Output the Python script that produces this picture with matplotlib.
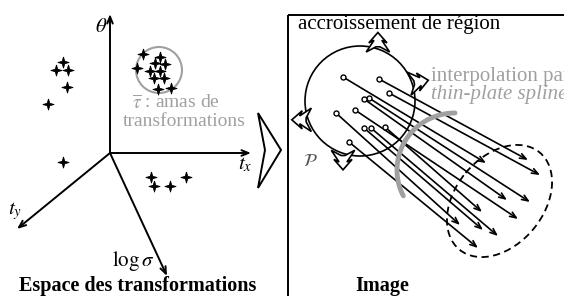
import numpy as np
import matplotlib.pyplot as plt
import matplotlib.patches as patches

plt.rcParams['font.family'] = ['Liberation Serif', 'DejaVu Serif']
plt.rcParams['mathtext.fontset'] = 'stix'

# --- espace des transformations (coordonnees en pixels du croquis) ---
origin = (110, 153)
axis_end_x = [110, 251, 17, 167]
axis_end_y = [14, 153, 229, 276]
axis_names = [r'$\theta$', r'$t_x$', r'$t_y$', r'$\log\sigma$']
axis_label_x = [101, 245, 15, 133]
axis_label_y = [28, 165, 211, 261]

stars_x = [63, 56, 68, 67, 48, 63, 151, 154, 170, 186]
stars_y = [62, 70, 70, 87, 104, 162, 177, 186, 186, 177]
amas_x = [143, 160, 137, 155, 165, 150, 160, 154, 164, 158, 171]
amas_y = [54, 57, 68, 63, 64, 71, 71, 78, 78, 89, 88]
amas_circle = (159, 70, 23)

# --- image ---
region = (360, 101, 55)  # centre x, centre y, rayon
growth_pos = [71, 19, 200, 252]     # position des fleches sur le contour (deg)
growth_dir = [90, 10, 180, 270]     # direction des fleches (deg)
start_x = [343, 379, 389, 369, 364, 355, 385, 371, 364, 336, 349]
start_y = [77, 79, 93, 98, 99, 110, 127, 128, 128, 113, 142]
end_x = [486, 528, 540, 530, 507, 518, 482, 498, 483, 460, 478]
end_y = [163, 160, 175, 202, 200, 219, 212, 236, 230, 225, 248]
target = dict(xy=(499.5, 201), width=126, height=88, angle=-50.4)

gray = '#a0a0a0'
fs = 15

fig = plt.figure(figsize=(5.64, 2.96), dpi=100)
ax = fig.add_axes([0, 0, 1, 1])
ax.set_xlim(0, 564)
ax.set_ylim(296, 0)
ax.axis('off')

# axes of the transformation space
for x, y in zip(axis_end_x, axis_end_y):
    ax.annotate('', xy=(x, y), xytext=origin,
                arrowprops=dict(arrowstyle='->,head_length=0.5,head_width=0.2', lw=1.4, color='black',
                                shrinkA=0, shrinkB=0))
for name, x, y in zip(axis_names, axis_label_x, axis_label_y):
    ax.text(x, y, name, ha='center', va='center', fontsize=fs)

star = [(0, 1), (0.22, 0.22), (1, 0), (0.22, -0.22), (0, -1), (-0.22, -0.22), (-1, 0),
        (-0.22, 0.22), (0, 1)]
ax.plot(stars_x, stars_y, ls='none', marker=star, ms=8, color='black', mew=0.6)
ax.plot(amas_x, amas_y, ls='none', marker=star, ms=8, color='black', mew=0.6)
ax.add_patch(patches.Circle(amas_circle[:2], amas_circle[2], fill=False, ec=gray, lw=1.5))
ax.text(176, 103, r'$\overline{\tau}$ : amas de', ha='center', va='center', fontsize=14,
        color=gray)
ax.text(184, 121, 'transformations', ha='center', va='center', fontsize=14, color=gray)
ax.text(138, 286, 'Espace des transformations', ha='center', va='center', fontsize=14.5,
        fontweight='bold')

# big chevron between the two panels
ax.add_patch(patches.Polygon([(258, 113), (281, 150), (258, 188), (265, 150)], closed=True,
                             fc='white', ec='black', lw=1.4))

# image panel
ax.add_patch(patches.Rectangle((288, 15), 400, 400, fill=False, ec='black', lw=1.4))
ax.text(298, 25, 'accroissement de région', ha='left', va='center', fontsize=fs)
ax.text(431, 77, 'interpolation par', ha='left', va='center', fontsize=fs, color=gray)
ax.text(431, 94, 'thin-plate spline', ha='left', va='center', fontsize=fs, color=gray,
        style='italic')
ax.text(382, 286, 'Image', ha='center', va='center', fontsize=14.5, fontweight='bold')

# dashed target region
ax.add_patch(patches.Ellipse(target['xy'], target['width'], target['height'], angle=target['angle'],
                             fill=False, ec='black', lw=1.3, ls=(0, (4, 2.5))))

# region boundary with growth arrows
ax.add_patch(patches.Circle(region[:2], region[2], fill=False, ec='black', lw=1.2))
shape = 1.3 * np.array([(15, 0), (7, 7), (9, 3), (0, 9), (4, 1.5),
                        (4, -1.5), (0, -9), (9, -3), (7, -7)])
for p, d in zip(growth_pos, growth_dir):
    tp, td = np.deg2rad(p), np.deg2rad(d)
    base = np.array(region[:2]) + region[2] * np.array([np.cos(tp), -np.sin(tp)])
    u = np.array([np.cos(td), -np.sin(td)])
    v = np.array([-u[1], u[0]])
    pts = base - 3 * u + shape[:, :1] * u + shape[:, 1:] * v
    ax.add_patch(patches.Polygon(pts, closed=True, fc='white', ec='black', lw=1.2, zorder=4))
ax.text(310, 161, r'$\mathcal{P}$', ha='center', va='center', fontsize=13, color='#555555')

# thin-plate spline interpolation lines
for x0, y0, x1, y1 in zip(start_x, start_y, end_x, end_y):
    ax.annotate('', xy=(x1, y1), xytext=(x0, y0),
                arrowprops=dict(arrowstyle='->,head_length=0.45,head_width=0.18', lw=1.2,
                                color='black', shrinkA=0, shrinkB=0), zorder=3)
ax.plot(start_x, start_y, ls='none', marker='o', ms=3.6, mfc='white', mec='black', mew=1.0,
        zorder=5)

# gray cross-section arc
t = np.deg2rad(np.linspace(90, 207, 60))
ax.plot(455 + 58 * np.cos(t), 170 - 57 * np.sin(t), color=gray, lw=3.5, solid_capstyle='round',
        zorder=6)

fig.savefig('out.png', dpi=100)
